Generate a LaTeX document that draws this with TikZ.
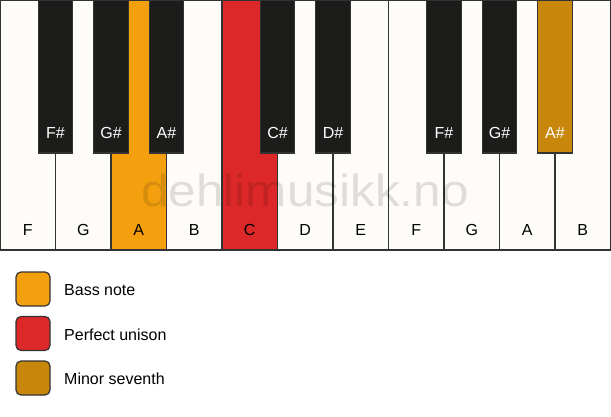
\documentclass[tikz,border=0pt]{standalone}
\usepackage{fontspec}
\setmainfont{Liberation Sans}
\definecolor{wkeyc}{HTML}{FDFCF8}
\definecolor{bkeyc}{HTML}{1C1C1A}
\definecolor{edgec}{HTML}{333333}
\definecolor{bassc}{HTML}{F4A00E}
\definecolor{unisonc}{HTML}{DC2828}
\definecolor{seventhc}{HTML}{C8870A}
\tikzset{
  wkey/.style={draw=edgec, line width=1.2pt, fill=wkeyc, minimum width=55.5pt, minimum height=250pt, anchor=north west, inner sep=0pt, outer sep=0pt},
  bkey/.style={draw=edgec, line width=1.2pt, fill=bkeyc, minimum width=34.4pt, minimum height=153pt, anchor=north, inner sep=0pt, outer sep=0pt},
  wlabel/.style={font=\fontsize{16}{16}\selectfont, text=black, anchor=base},
  blabel/.style={font=\fontsize{16}{16}\selectfont, text=white, anchor=base},
  legbox/.style={draw=edgec, line width=1.2pt, rounded corners=5pt, minimum width=34pt, minimum height=34pt, inner sep=0pt},
  legtext/.style={font=\fontsize{16}{16}\selectfont, anchor=base west, inner sep=0pt},
  wmark/.style={font=\fontsize{45}{45}\selectfont, text=black, text opacity=0.12, anchor=base, xscale=1.1}
}
\begin{document}
\begin{tikzpicture}[x=1pt,y=-1pt]
\useasboundingbox (0,0) rectangle (611,417);
% white keys
\foreach \i/\n/\c in {0/F/wkeyc,1/G/wkeyc,2/A/bassc,3/B/wkeyc,4/C/unisonc,5/D/wkeyc,6/E/wkeyc,7/F/wkeyc,8/G/wkeyc,9/A/wkeyc,10/B/wkeyc}{
  \node[wkey, fill=\c] (w\i) at ({55.5*\i},0) {};
  \node[wlabel] (wl\i) at ({55.5*\i+27.75},236) {\n};
}
% watermark
\node[wmark] (wm) at (305,206.5) {dehlimusikk.no};
% black keys
\foreach \i/\n/\c in {1/F\#/bkeyc,2/G\#/bkeyc,3/A\#/bkeyc,5/C\#/bkeyc,6/D\#/bkeyc,8/F\#/bkeyc,9/G\#/bkeyc,10/A\#/seventhc}{
  \node[bkey, fill=\c] (b\i) at ({55.5*\i},0) {};
  \node[blabel] (bl\i) at ({55.5*\i},139) {\n};
}
% legend
\node[legbox, fill=bassc] (l1) at (33,289) {};
\node[legtext] (t1) at (64,295.7) {Bass note};
\node[legbox, fill=unisonc] (l2) at (33,333.5) {};
\node[legtext] (t2) at (64,340) {Perfect unison};
\node[legbox, fill=seventhc] (l3) at (33,378) {};
\node[legtext] (t3) at (64,384.3) {Minor seventh};
\end{tikzpicture}
\end{document}
